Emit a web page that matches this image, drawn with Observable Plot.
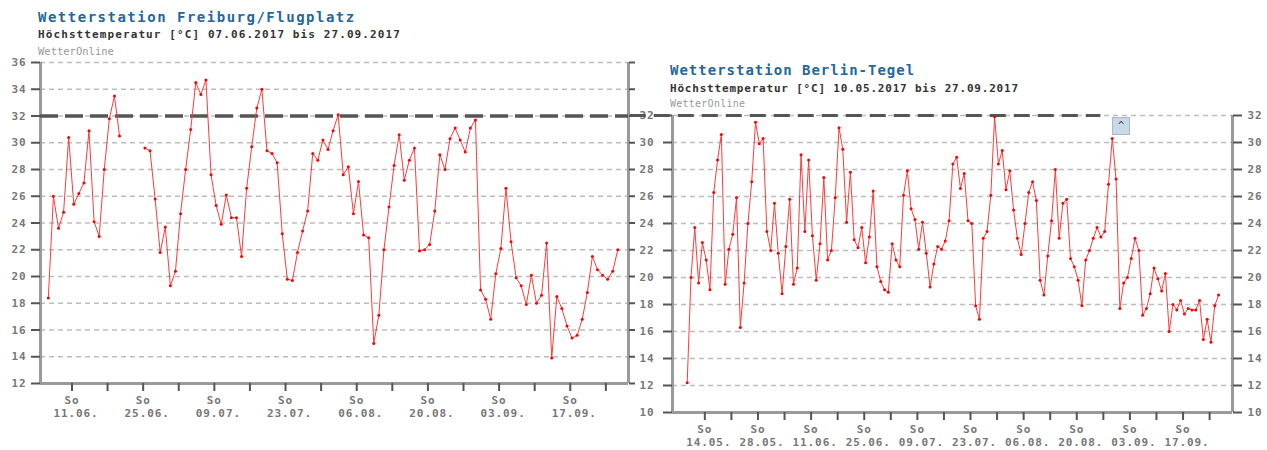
<!DOCTYPE html>
<html><head><meta charset="utf-8">
<script src="https://cdn.jsdelivr.net/npm/d3@7"></script>
<script src="https://cdn.jsdelivr.net/npm/@observablehq/plot@0.6"></script>
<style>
body{margin:0;background:#fff;}
#wrap{position:relative;width:1267px;height:450px;overflow:hidden;font-family:"DejaVu Sans Mono",monospace;background:#fff;}
#wrap svg{position:absolute;}
.t{position:absolute;white-space:nowrap;line-height:1;}
.title{font-size:14px;font-weight:bold;color:#23679e;}
.sub{font-size:11px;font-weight:bold;color:#333;}
.src{font-size:10.5px;color:#999;}
.btn{position:absolute;left:1112px;top:117px;width:16px;height:16px;background:#c9d9eb;border:1px solid #aab8c8;font-size:11px;line-height:16px;text-align:center;color:#445;}
</style></head><body><div id="wrap"></div>
<script>
// ---- data ----
const freiburgTitle = "Wetterstation Freiburg/Flugplatz";
const freiburgSubtitle = "Höchsttemperatur [°C] 07.06.2017 bis 27.09.2017";
const berlinTitle = "Wetterstation Berlin-Tegel";
const berlinSubtitle = "Höchsttemperatur [°C] 10.05.2017 bis 27.09.2017";
const sourceLabel = "WetterOnline";

const freiburgStart = "2017-06-07";
const freiburgTmax = [
  18.4, 26.0, 23.6, 24.8, 30.4, 25.4, 26.2, 27.0, 30.9, 24.1, 23.0, 28.0, 31.8, 33.5, 30.5,
  null, null, null, null,
  29.6, 29.4, 25.8, 21.8, 23.7, 19.3, 20.4, 24.7, 28.0, 31.0, 34.5, 33.6, 34.7, 27.6, 25.3,
  23.9, 26.1, 24.4, 24.4, 21.5, 26.6, 29.7, 32.6, 34.0, 29.4, 29.2, 28.5, 23.2, 19.8, 19.7,
  21.8, 23.4, 24.9, 29.2, 28.7, 30.2, 29.5, 30.9, 32.1, 27.6, 28.2, 24.7, 27.1, 23.1, 22.9,
  15.0, 17.1, 22.0, 25.2, 28.3, 30.6, 27.2, 28.7, 29.6, 21.9, 22.0, 22.4, 24.9, 29.1, 28.0,
  30.3, 31.1, 30.2, 29.3, 31.1, 31.7, 19.0, 18.3, 16.8, 20.2, 22.1, 26.6, 22.6, 19.9, 19.3,
  17.9, 20.1, 18.0, 18.6, 22.5, 13.9, 18.5, 17.6, 16.3, 15.4, 15.6, 16.8, 18.8, 21.5, 20.5,
  20.1, 19.8, 20.4, 22.0
];
const berlinStart = "2017-05-10";
const berlinTmax = [
  12.2, 20.0, 23.7, 19.6, 22.6, 21.3, 19.1, 26.3, 28.7, 30.6, 19.5, 22.1, 23.2, 25.9, 16.3,
  19.6, 24.0, 27.1, 31.5, 29.9, 30.3, 23.4, 22.0, 25.5, 21.8, 18.8, 22.3, 25.8, 19.5, 20.7,
  29.1, 23.4, 28.7, 23.1, 19.8, 22.5, 27.4, 21.3, 22.0, 25.9, 31.1, 29.5, 24.1, 27.8, 22.8,
  22.2, 23.7, 21.1, 23.0, 26.4, 20.8, 19.7, 19.1, 18.9, 22.5, 21.3, 20.8, 26.1, 27.9, 25.1,
  24.3, 22.1, 24.1, 21.8, 19.3, 21.0, 22.3, 22.1, 22.7, 24.2, 28.4, 28.9, 26.6, 27.7, 24.2,
  24.0, 17.9, 16.9, 22.9, 23.4, 26.1, 31.9, 28.4, 29.4, 26.5, 27.9, 25.0, 22.9, 21.7, 24.0,
  26.3, 27.1, 25.7, 19.8, 18.7, 21.6, 24.2, 28.0, 22.9, 25.5, 25.8, 21.4, 20.8, 19.8, 17.9,
  21.3, 22.0, 22.9, 23.7, 23.0, 23.4, 26.9, 30.3, 27.3, 17.7, 19.6, 20.0, 21.4, 22.9, 22.0,
  17.2, 17.7, 18.8, 20.7, 19.9, 19.0, 20.3, 16.0, 18.0, 17.6, 18.3, 17.3, 17.7, 17.6, 17.6,
  18.3, 15.4, 16.9, 15.2, 17.9, 18.7
];
const freiburgYTicks = [12, 14, 16, 18, 20, 22, 24, 26, 28, 30, 32, 34, 36];
const berlinYTicks = [10, 12, 14, 16, 18, 20, 22, 24, 26, 28, 30, 32];
const freiburgSundays = ["2017-06-11","2017-06-18","2017-06-25","2017-07-02","2017-07-09","2017-07-16","2017-07-23","2017-07-30","2017-08-06","2017-08-13","2017-08-20","2017-08-27","2017-09-03","2017-09-10","2017-09-17","2017-09-24"];
const freiburgLabelSundays = ["2017-06-11","2017-06-25","2017-07-09","2017-07-23","2017-08-06","2017-08-20","2017-09-03","2017-09-17"];
const berlinSundays = ["2017-05-14","2017-05-21","2017-05-28","2017-06-04","2017-06-11","2017-06-18","2017-06-25","2017-07-02","2017-07-09","2017-07-16","2017-07-23","2017-07-30","2017-08-06","2017-08-13","2017-08-20","2017-08-27","2017-09-03","2017-09-10","2017-09-17","2017-09-24"];
const berlinLabelSundays = ["2017-05-14","2017-05-28","2017-06-11","2017-06-25","2017-07-09","2017-07-23","2017-08-06","2017-08-20","2017-09-03","2017-09-17"];
const weekdayLabel = "So";
const threshold = 32;
const thresholdSpanBerlin = ["2017-04-25", "2017-08-27"];

// ---- helpers ----
const DAY = 864e5;
const parse = s => new Date(s + "T00:00:00Z");
const series = (start, vals) => { const t0 = +parse(start); return vals.map((v, i) => ({date: new Date(t0 + i * DAY), v})); };
const tickShift = 0.65 * DAY;
const shifted = arr => arr.map(s => new Date(+parse(s) + tickShift));
const fmt = d3.utcFormat("%d.%m.");

const gridColor = "#bdbdbd", axisColor = "#9a9a9a", tickColor = "#555", labelColor = "#777";
const lineColor = "#ff3a3a", dotColor = "#f00";
const styleBase = {fontFamily: "DejaVu Sans Mono, monospace", fontSize: "11px", fontWeight: "bold", background: "transparent", overflow: "visible", letterSpacing: "0.9px"};

function chart({data, domainPad, yDomain, yTicks, sundays, labelSundays, width, height, margins, leftAxis, rightAxis, thresholdMark}) {
  const first = data[0].date, last = data[data.length - 1].date;
  const xDomain = [new Date(+first - domainPad[0] * DAY), new Date(+last + domainPad[1] * DAY)];
  const tickDates = shifted(sundays), labelDates = shifted(labelSundays);
  return Plot.plot({
    width, height, ...margins,
    x: {type: "utc", domain: xDomain, axis: null, label: null},
    y: {domain: yDomain, axis: null, label: null},
    style: styleBase,
    marks: [
      Plot.gridY(yTicks, {stroke: gridColor, strokeOpacity: 1, strokeWidth: 1.5, strokeDasharray: "5,4"}),
      Plot.ruleY([yDomain[0]], {stroke: axisColor, strokeWidth: 3}),
      Plot.ruleX([xDomain[0]], {stroke: axisColor, strokeWidth: 3}),
      Plot.ruleX([xDomain[1]], {stroke: axisColor, strokeWidth: 3}),
      Plot.axisY({anchor: "left", label: null, ticks: yTicks, tickSize: 9, tickPadding: leftAxis.padding, stroke: tickColor, strokeWidth: 2, fill: labelColor, tickFormat: leftAxis.labels ? d => d : () => ""}),
      Plot.axisY({anchor: "right", label: null, ticks: yTicks, tickSize: rightAxis.size, tickPadding: rightAxis.padding, stroke: tickColor, strokeWidth: 2, fill: labelColor, tickFormat: rightAxis.labels ? d => d : () => ""}),
      Plot.axisX({anchor: "bottom", label: null, ticks: tickDates, tickSize: 8, stroke: tickColor, strokeWidth: 2, tickFormat: () => ""}),
      Plot.axisX({anchor: "bottom", label: null, ticks: labelDates, tickSize: 0, tickPadding: 13, fill: labelColor, tickFormat: () => weekdayLabel}),
      Plot.axisX({anchor: "bottom", label: null, ticks: labelDates, tickSize: 0, tickPadding: 26, fill: labelColor, dx: 4, tickFormat: d => fmt(d)}),
      thresholdMark(xDomain),
      Plot.line(data, {x: "date", y: "v", stroke: lineColor, strokeWidth: 1}),
      Plot.dot(data.filter(d => d.v != null), {x: "date", y: "v", r: 1.5, fill: dotColor, stroke: "none"})
    ]
  });
}

const wrap = document.getElementById("wrap");

const left = chart({
  data: series(freiburgStart, freiburgTmax),
  domainPad: [1.54, 2.1],
  yDomain: [12, 36], yTicks: freiburgYTicks,
  sundays: freiburgSundays, labelSundays: freiburgLabelSundays,
  width: 636, height: 430,
  margins: {marginLeft: 40, marginRight: 8, marginTop: 62, marginBottom: 47},
  leftAxis: {padding: 5, labels: true},
  rightAxis: {size: 6, padding: 0, labels: false},
  thresholdMark: () => Plot.ruleY([threshold], {stroke: "#555", strokeWidth: 3.5, strokeDasharray: "18,7"})
});
left.style.left = "0px"; left.style.top = "0px";
wrap.appendChild(left);

const right = chart({
  data: series(berlinStart, berlinTmax),
  domainPad: [3.87, 3.68],
  yDomain: [10, 32], yTicks: berlinYTicks,
  sundays: berlinSundays, labelSundays: berlinLabelSundays,
  width: 637, height: 395,
  margins: {marginLeft: 42, marginRight: 35, marginTop: 60, marginBottom: 38},
  leftAxis: {padding: 9, labels: true},
  rightAxis: {size: 9, padding: 6, labels: true},
  thresholdMark: () => Plot.ruleY([threshold], {x1: parse(thresholdSpanBerlin[0]), x2: parse(thresholdSpanBerlin[1]), stroke: "#555", strokeWidth: 3, strokeDasharray: "16,8"})
});
right.style.left = "630px"; right.style.top = "55px";
wrap.appendChild(right);

function addText(cls, text, x, y, extra) {
  const d = document.createElement("div");
  d.className = "t " + cls;
  d.textContent = text;
  d.style.left = x + "px"; d.style.top = y + "px";
  if (extra) Object.assign(d.style, extra);
  wrap.appendChild(d);
}
addText("title", freiburgTitle, 38, 10, {letterSpacing: "1.5px"});
addText("sub", freiburgSubtitle, 38, 29, {letterSpacing: "1.1px"});
addText("src", sourceLabel, 38, 46);
addText("title", berlinTitle, 670, 63, {letterSpacing: "1.0px"});
addText("sub", berlinSubtitle, 670, 83, {letterSpacing: "0.8px"});
addText("src", sourceLabel, 670, 99, {fontSize: "10px", letterSpacing: "0.25px"});
const btn = document.createElement("div");
btn.className = "btn"; btn.textContent = "^";
wrap.appendChild(btn);
</script></body></html>
